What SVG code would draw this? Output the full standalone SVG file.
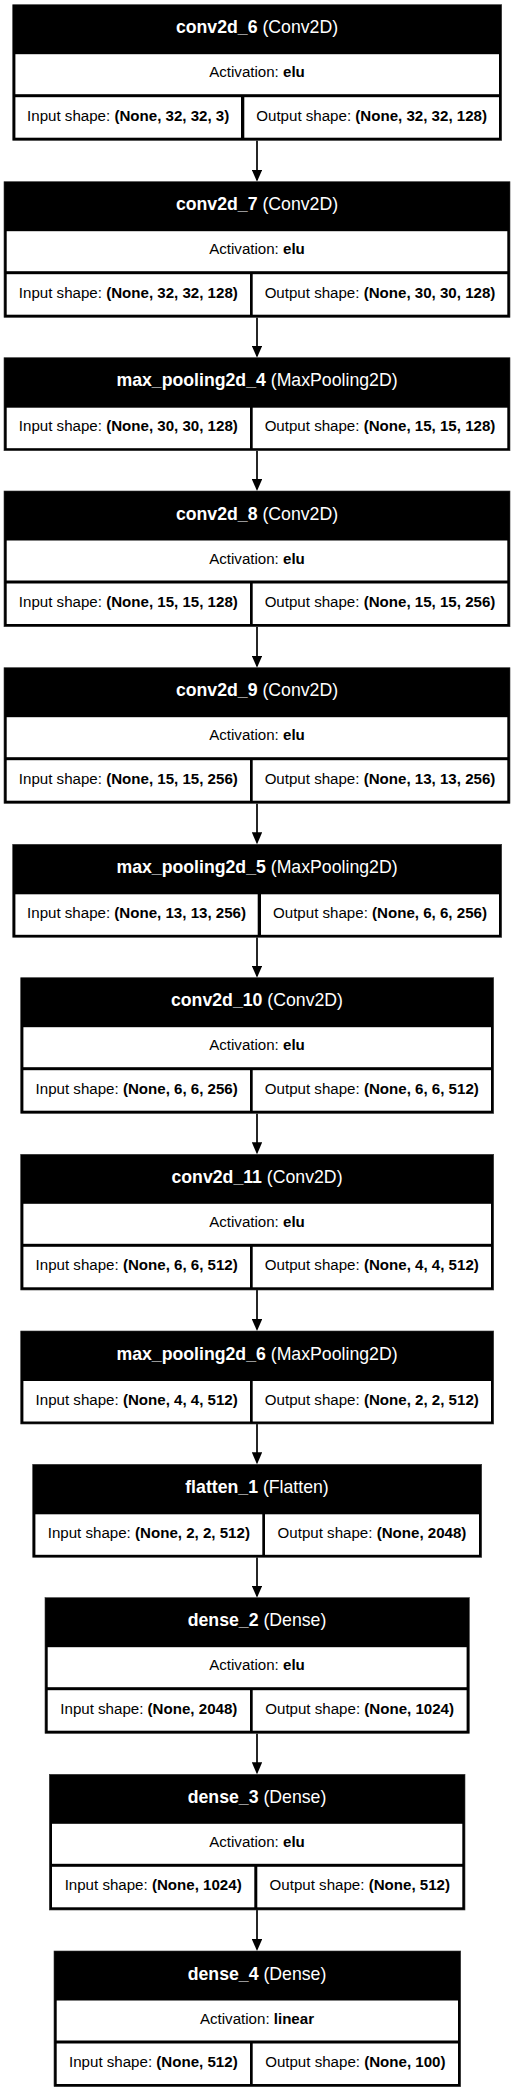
<svg xmlns="http://www.w3.org/2000/svg" width="514" height="2092" viewBox="0 0 514 2092">
<style>
.outer{fill:#000;stroke:#333;stroke-width:0.6}
.cell{fill:#fff}
text{font-family:"Liberation Sans",Arial,sans-serif;text-anchor:middle}
.title{font-size:17.7px;fill:#fff}
.t{font-size:15.1px;fill:#000}
.b{font-weight:bold}
.edge{stroke:#000;stroke-width:1.7;fill:none}
</style>
<defs>
<marker id="arr" markerUnits="userSpaceOnUse" viewBox="0 0 12 10.4" markerWidth="12" markerHeight="10.4" refX="10" refY="5.2" orient="auto">
<path d="M0,0 L12,5.2 L0,10.4 Z" fill="#000"/>
</marker>
</defs>
<rect width="514" height="2092" fill="#fff"/>
<g id="connectors">
<line class="edge" x1="257" y1="140.4" x2="257" y2="179.7" marker-end="url(#arr)"/>
<line class="edge" x1="257" y1="317.4" x2="257" y2="355.7" marker-end="url(#arr)"/>
<line class="edge" x1="257" y1="450.7" x2="257" y2="489" marker-end="url(#arr)"/>
<line class="edge" x1="257" y1="626.7" x2="257" y2="665.7" marker-end="url(#arr)"/>
<line class="edge" x1="257" y1="803.4" x2="257" y2="842.3" marker-end="url(#arr)"/>
<line class="edge" x1="257" y1="937.3" x2="257" y2="975.7" marker-end="url(#arr)"/>
<line class="edge" x1="257" y1="1113.4" x2="257" y2="1152.3" marker-end="url(#arr)"/>
<line class="edge" x1="257" y1="1290" x2="257" y2="1329" marker-end="url(#arr)"/>
<line class="edge" x1="257" y1="1424" x2="257" y2="1462.3" marker-end="url(#arr)"/>
<line class="edge" x1="257" y1="1557.3" x2="257" y2="1595.7" marker-end="url(#arr)"/>
<line class="edge" x1="257" y1="1733.4" x2="257" y2="1772.3" marker-end="url(#arr)"/>
<line class="edge" x1="257" y1="1910" x2="257" y2="1949" marker-end="url(#arr)"/>
</g>

<g id="conv2d_6">
<rect class="outer" x="12.7" y="4.7" width="489" height="135.7"/>
<text class="title" x="257" y="33.3"><tspan class="b">conv2d_6</tspan> (Conv2D)</text>
<rect class="cell" x="15.4" y="54.2" width="483.6" height="40"/>
<text class="t" x="257" y="77.2">Activation: <tspan class="b">elu</tspan></text>
<rect class="cell" x="15.4" y="97.2" width="225.6" height="40.5"/>
<rect class="cell" x="244.3" y="97.2" width="254.7" height="40.5"/>
<text class="t" x="128.2" y="120.7">Input shape: <tspan class="b">(None, 32, 32, 3)</tspan></text>
<text class="t" x="371.65" y="120.7">Output shape: <tspan class="b">(None, 32, 32, 128)</tspan></text>
</g>

<g id="conv2d_7">
<rect class="outer" x="4" y="181.7" width="506" height="135.7"/>
<text class="title" x="257" y="210.3"><tspan class="b">conv2d_7</tspan> (Conv2D)</text>
<rect class="cell" x="6.7" y="231.2" width="500.6" height="40"/>
<text class="t" x="257" y="254.2">Activation: <tspan class="b">elu</tspan></text>
<rect class="cell" x="6.7" y="274.2" width="243.3" height="40.5"/>
<rect class="cell" x="252.7" y="274.2" width="254.6" height="40.5"/>
<text class="t" x="128.35" y="297.7">Input shape: <tspan class="b">(None, 32, 32, 128)</tspan></text>
<text class="t" x="380" y="297.7">Output shape: <tspan class="b">(None, 30, 30, 128)</tspan></text>
</g>

<g id="max_pooling2d_4">
<rect class="outer" x="4" y="357.7" width="506" height="93"/>
<text class="title" x="257" y="386.3"><tspan class="b">max_pooling2d_4</tspan> (MaxPooling2D)</text>
<rect class="cell" x="6.7" y="407.7" width="243.3" height="40.5"/>
<rect class="cell" x="252.7" y="407.7" width="254.6" height="40.5"/>
<text class="t" x="128.35" y="431.2">Input shape: <tspan class="b">(None, 30, 30, 128)</tspan></text>
<text class="t" x="380" y="431.2">Output shape: <tspan class="b">(None, 15, 15, 128)</tspan></text>
</g>

<g id="conv2d_8">
<rect class="outer" x="4" y="491" width="506" height="135.7"/>
<text class="title" x="257" y="519.6"><tspan class="b">conv2d_8</tspan> (Conv2D)</text>
<rect class="cell" x="6.7" y="540.5" width="500.6" height="40"/>
<text class="t" x="257" y="563.5">Activation: <tspan class="b">elu</tspan></text>
<rect class="cell" x="6.7" y="583.5" width="243.3" height="40.5"/>
<rect class="cell" x="252.7" y="583.5" width="254.6" height="40.5"/>
<text class="t" x="128.35" y="607">Input shape: <tspan class="b">(None, 15, 15, 128)</tspan></text>
<text class="t" x="380" y="607">Output shape: <tspan class="b">(None, 15, 15, 256)</tspan></text>
</g>

<g id="conv2d_9">
<rect class="outer" x="4" y="667.7" width="506" height="135.7"/>
<text class="title" x="257" y="696.3"><tspan class="b">conv2d_9</tspan> (Conv2D)</text>
<rect class="cell" x="6.7" y="717.2" width="500.6" height="40"/>
<text class="t" x="257" y="740.2">Activation: <tspan class="b">elu</tspan></text>
<rect class="cell" x="6.7" y="760.2" width="243.3" height="40.5"/>
<rect class="cell" x="252.7" y="760.2" width="254.6" height="40.5"/>
<text class="t" x="128.35" y="783.7">Input shape: <tspan class="b">(None, 15, 15, 256)</tspan></text>
<text class="t" x="380" y="783.7">Output shape: <tspan class="b">(None, 13, 13, 256)</tspan></text>
</g>

<g id="max_pooling2d_5">
<rect class="outer" x="12.7" y="844.3" width="489" height="93"/>
<text class="title" x="257" y="872.9"><tspan class="b">max_pooling2d_5</tspan> (MaxPooling2D)</text>
<rect class="cell" x="15.4" y="894.3" width="242.3" height="40.5"/>
<rect class="cell" x="261" y="894.3" width="238" height="40.5"/>
<text class="t" x="136.55" y="917.8">Input shape: <tspan class="b">(None, 13, 13, 256)</tspan></text>
<text class="t" x="380" y="917.8">Output shape: <tspan class="b">(None, 6, 6, 256)</tspan></text>
</g>

<g id="conv2d_10">
<rect class="outer" x="20.7" y="977.7" width="473" height="135.7"/>
<text class="title" x="257" y="1006.3"><tspan class="b">conv2d_10</tspan> (Conv2D)</text>
<rect class="cell" x="23.4" y="1027.2" width="467.6" height="40"/>
<text class="t" x="257" y="1050.2">Activation: <tspan class="b">elu</tspan></text>
<rect class="cell" x="23.4" y="1070.2" width="226.6" height="40.5"/>
<rect class="cell" x="252.7" y="1070.2" width="238.3" height="40.5"/>
<text class="t" x="136.7" y="1093.7">Input shape: <tspan class="b">(None, 6, 6, 256)</tspan></text>
<text class="t" x="371.85" y="1093.7">Output shape: <tspan class="b">(None, 6, 6, 512)</tspan></text>
</g>

<g id="conv2d_11">
<rect class="outer" x="20.7" y="1154.3" width="473" height="135.7"/>
<text class="title" x="257" y="1182.9"><tspan class="b">conv2d_11</tspan> (Conv2D)</text>
<rect class="cell" x="23.4" y="1203.8" width="467.6" height="40"/>
<text class="t" x="257" y="1226.8">Activation: <tspan class="b">elu</tspan></text>
<rect class="cell" x="23.4" y="1246.8" width="226.6" height="40.5"/>
<rect class="cell" x="252.7" y="1246.8" width="238.3" height="40.5"/>
<text class="t" x="136.7" y="1270.3">Input shape: <tspan class="b">(None, 6, 6, 512)</tspan></text>
<text class="t" x="371.85" y="1270.3">Output shape: <tspan class="b">(None, 4, 4, 512)</tspan></text>
</g>

<g id="max_pooling2d_6">
<rect class="outer" x="20.7" y="1331" width="473" height="93"/>
<text class="title" x="257" y="1359.6"><tspan class="b">max_pooling2d_6</tspan> (MaxPooling2D)</text>
<rect class="cell" x="23.4" y="1381" width="226.6" height="40.5"/>
<rect class="cell" x="252.7" y="1381" width="238.3" height="40.5"/>
<text class="t" x="136.7" y="1404.5">Input shape: <tspan class="b">(None, 4, 4, 512)</tspan></text>
<text class="t" x="371.85" y="1404.5">Output shape: <tspan class="b">(None, 2, 2, 512)</tspan></text>
</g>

<g id="flatten_1">
<rect class="outer" x="32.7" y="1464.3" width="449" height="93"/>
<text class="title" x="257" y="1492.9"><tspan class="b">flatten_1</tspan> (Flatten)</text>
<rect class="cell" x="35.4" y="1514.3" width="226.9" height="40.5"/>
<rect class="cell" x="265" y="1514.3" width="214" height="40.5"/>
<text class="t" x="148.85" y="1537.8">Input shape: <tspan class="b">(None, 2, 2, 512)</tspan></text>
<text class="t" x="372" y="1537.8">Output shape: <tspan class="b">(None, 2048)</tspan></text>
</g>

<g id="dense_2">
<rect class="outer" x="45" y="1597.7" width="424.3" height="135.7"/>
<text class="title" x="257" y="1626.3"><tspan class="b">dense_2</tspan> (Dense)</text>
<rect class="cell" x="47.7" y="1647.2" width="418.9" height="40"/>
<text class="t" x="257" y="1670.2">Activation: <tspan class="b">elu</tspan></text>
<rect class="cell" x="47.7" y="1690.2" width="202.3" height="40.5"/>
<rect class="cell" x="252.7" y="1690.2" width="213.9" height="40.5"/>
<text class="t" x="148.85" y="1713.7">Input shape: <tspan class="b">(None, 2048)</tspan></text>
<text class="t" x="359.65" y="1713.7">Output shape: <tspan class="b">(None, 1024)</tspan></text>
</g>

<g id="dense_3">
<rect class="outer" x="49.3" y="1774.3" width="415.7" height="135.7"/>
<text class="title" x="257" y="1802.9"><tspan class="b">dense_3</tspan> (Dense)</text>
<rect class="cell" x="52" y="1823.8" width="410.3" height="40"/>
<text class="t" x="257" y="1846.8">Activation: <tspan class="b">elu</tspan></text>
<rect class="cell" x="52" y="1866.8" width="202.3" height="40.5"/>
<rect class="cell" x="257.3" y="1866.8" width="205" height="40.5"/>
<text class="t" x="153.15" y="1890.3">Input shape: <tspan class="b">(None, 1024)</tspan></text>
<text class="t" x="359.8" y="1890.3">Output shape: <tspan class="b">(None, 512)</tspan></text>
</g>

<g id="dense_4">
<rect class="outer" x="54" y="1951" width="406.7" height="135.7"/>
<text class="title" x="257" y="1979.6"><tspan class="b">dense_4</tspan> (Dense)</text>
<rect class="cell" x="56.7" y="2000.5" width="401.3" height="40"/>
<text class="t" x="257" y="2023.5">Activation: <tspan class="b">linear</tspan></text>
<rect class="cell" x="56.7" y="2043.5" width="193.3" height="40.5"/>
<rect class="cell" x="252.7" y="2043.5" width="205.3" height="40.5"/>
<text class="t" x="153.35" y="2067">Input shape: <tspan class="b">(None, 512)</tspan></text>
<text class="t" x="355.35" y="2067">Output shape: <tspan class="b">(None, 100)</tspan></text>
</g>
</svg>
